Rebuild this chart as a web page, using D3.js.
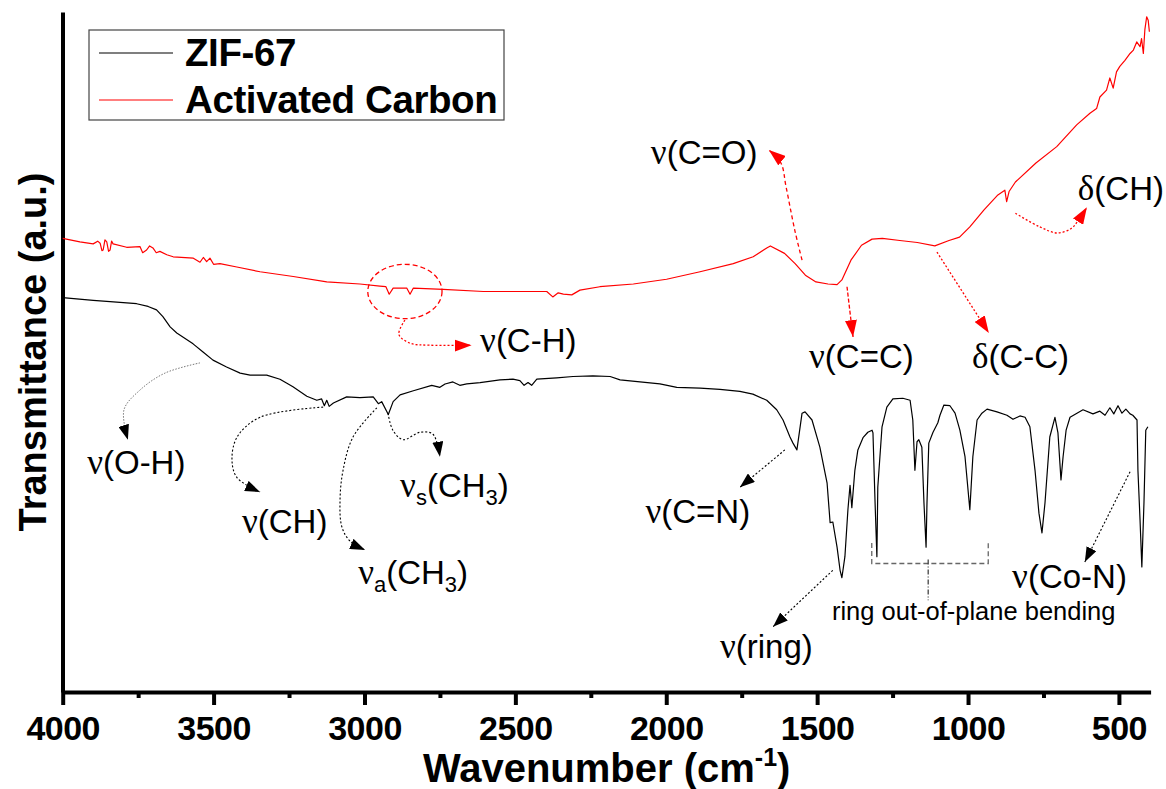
<!DOCTYPE html>
<html><head><meta charset="utf-8">
<script src="https://cdn.jsdelivr.net/npm/d3@7"></script>
<style>body{margin:0;background:#fff}svg{display:block}</style>
</head><body>
<svg id="chart" width="1166" height="789"></svg>
<script>
// FTIR spectra: wavenumber (cm-1) and transmittance (a.u.)
const zifWavenumber = [4000,3899,3843,3755,3717,3689,3668,3644,3622,3568,3535,3502,3457,3412,3379,3324,3280,3237,3191,3158,3142,3133,3125,3117,3103,3059,3015,2971,2954,2943,2921,2905,2882,2838,2777,2750,2733,2707,2684,2661,2617,2551,2508,2485,2471,2458,2446,2429,2363,2309,2243,2186,2153,2087,2021,1965,1888,1822,1756,1713,1667,1634,1613,1590,1580,1567,1550,1540,1517,1491,1467,1457,1448,1434,1424,1418,1408,1398,1391,1385,1375,1365,1348,1332,1318,1315,1308,1302,1299,1285,1269,1249,1216,1192,1183,1176,1169,1163,1153,1146,1139,1136,1130,1116,1100,1093,1080,1060,1043,1027,1010,994,984,970,954,937,904,871,851,828,811,795,778,765,755,745,729,712,702,692,685,675,662,639,619,586,563,546,530,517,503,490,477,463,454,440,437,430,424,417,411,404];
const zifTransmittance = [58.0,57.6,57.4,57.1,56.7,56.2,55.2,53.7,52.8,51.2,50.0,48.8,47.8,46.9,46.6,46.6,46.0,44.9,43.5,42.9,43.1,42.1,42.9,42.0,42.5,43.4,43.3,43.4,42.4,42.7,40.8,42.7,43.7,44.3,45.1,44.8,45.3,45.6,45.1,45.3,45.5,45.9,46.0,45.8,45.1,45.5,45.1,46.0,46.2,46.4,46.5,46.4,45.9,45.6,45.3,44.8,44.7,44.5,44.2,43.8,42.9,41.5,40.0,37.5,36.6,35.6,41.0,41.2,40.0,36.0,30.7,24.9,25.0,21.3,17.9,16.8,19.9,26.8,30.4,27.1,32.6,35.6,37.4,38.2,38.5,38.1,27.8,19.9,30.1,39.0,41.9,43.1,43.2,42.9,40.0,32.6,36.8,37.1,36.0,27.8,21.3,27.8,36.6,38.2,39.6,40.7,42.2,42.1,41.0,38.5,34.6,26.8,34.6,40.0,41.0,41.6,41.2,40.7,40.1,40.6,40.4,39.0,32.6,26.3,23.4,27.8,37.5,40.4,38.1,31.2,34.6,38.5,40.4,41.0,41.5,40.9,41.3,40.7,41.8,40.9,42.1,41.0,41.6,40.9,40.7,40.0,32.6,25.3,18.4,27.8,38.5,39.0];

const carbonWavenumber = [4000,3943,3899,3884,3876,3870,3866,3860,3854,3848,3843,3838,3833,3788,3744,3735,3722,3712,3701,3690,3678,3655,3634,3567,3545,3534,3523,3512,3500,3479,3423,3346,3236,3125,3015,2949,2929,2918,2905,2860,2849,2838,2739,2606,2396,2376,2358,2341,2313,2286,2220,2109,1999,1888,1778,1712,1667,1655,1608,1573,1539,1504,1464,1434,1418,1388,1353,1318,1284,1226,1168,1110,1063,1028,994,947,901,878,872,864,843,775,706,640,596,574,563,541,530,519,508,497,480,463,452,441,430,425,419,414,408,403,399];
const carbonTransmittance = [66.7,66.2,65.9,66.3,66.0,64.9,65.0,66.5,66.2,64.8,65.0,66.3,65.9,65.4,65.5,64.6,65.0,65.6,65.3,64.6,64.8,64.3,64.0,63.8,63.2,63.9,63.3,63.8,62.9,63.0,62.5,61.8,61.1,60.3,60.0,59.7,59.6,58.5,59.4,59.4,58.5,59.4,59.2,58.9,58.9,58.1,58.7,58.5,58.4,59.1,59.6,60.0,60.7,61.8,63.0,64.0,65.3,65.6,64.5,63.0,61.3,60.3,60.0,59.9,60.6,63.5,65.7,66.6,66.7,66.4,66.1,65.6,66.4,66.9,68.4,70.9,73.1,73.8,72.1,73.6,75.0,77.8,80.2,83.4,85.1,85.8,87.5,88.5,90.3,88.8,91.2,92.0,92.9,93.9,94.4,95.6,94.9,96.1,93.9,97.4,99.3,98.8,97.1];

const seriesNames = ["ZIF-67", "Activated Carbon"];
const seriesColors = ["#000000", "#ff0000"];
const majorTicks = [4000, 3500, 3000, 2500, 2000, 1500, 1000, 500];
const minorTicks = [3750, 3250, 2750, 2250, 1750, 1250, 750];

const svg = d3.select("#chart");
const x = d3.scaleLinear().domain([4000, 395]).range([62.7, 1150.6]);
const y = d3.scaleLinear().domain([0, 100]).range([692, 12]);
const P = (w, v) => [x(w), y(v)];
const SANS = "Liberation Sans, Arial, sans-serif";

// arrowheads
const defs = svg.append("defs");
function marker(id, color, len, half) {
  defs.append("marker").attr("id", id)
    .attr("viewBox", `0 ${-half} ${len} ${half * 2}`)
    .attr("refX", len).attr("refY", 0)
    .attr("markerWidth", len).attr("markerHeight", half * 2)
    .attr("markerUnits", "userSpaceOnUse").attr("orient", "auto")
    .append("path").attr("d", `M0,${-half}L${len},0L0,${half}Z`).attr("fill", color);
}
marker("headBlack", "#000", 15, 5.5);
marker("headRed", "#ff0000", 17, 6);

// axes
const xAxis = svg.append("g").attr("transform", `translate(0,${y(0)})`)
  .call(d3.axisBottom(x).tickValues(majorTicks).tickSize(13).tickSizeOuter(0).tickFormat(d3.format("d")));
xAxis.select(".domain").attr("stroke-width", 4);
xAxis.selectAll(".tick line").attr("stroke-width", 4);
xAxis.selectAll(".tick text").attr("dy", null).attr("y", 48)
  .attr("font-family", SANS).attr("font-weight", "bold")
  .attr("font-size", 34).attr("letter-spacing", "-0.5px").attr("fill", "#000");

const xMinor = svg.append("g").attr("transform", `translate(0,${y(0)})`)
  .call(d3.axisBottom(x).tickValues(minorTicks).tickSize(6).tickSizeOuter(0).tickFormat(""));
xMinor.select(".domain").remove();
xMinor.selectAll(".tick line").attr("stroke-width", 4);

const yAxis = svg.append("g").attr("transform", `translate(62.5,0)`)
  .call(d3.axisLeft(y).tickValues([]).tickSizeOuter(0));
yAxis.select(".domain").attr("stroke-width", 4);

// axis titles
const xt = svg.append("text").attr("x", (x.range()[0] + x.range()[1]) / 2).attr("y", 782)
  .attr("text-anchor", "middle").attr("font-family", SANS)
  .attr("font-weight", "bold").attr("font-size", 40);
xt.append("tspan").text("Wavenumber (cm");
xt.append("tspan").attr("font-size", 25).attr("dy", -16).text("-1");
xt.append("tspan").attr("dy", 16).text(")");

svg.append("text").attr("transform", `translate(46,${(y.range()[0] + y.range()[1]) / 2}) rotate(-90)`)
  .attr("text-anchor", "middle").attr("font-family", SANS)
  .attr("font-weight", "bold").attr("font-size", 38)
  .text("Transmittance (a.u.)");

// spectra
const line = d3.line().x(d => x(d[0])).y(d => y(d[1]));
const series = [
  d3.zip(zifWavenumber, zifTransmittance),
  d3.zip(carbonWavenumber, carbonTransmittance)
];
series.forEach((s, i) => {
  svg.append("path").datum(s).attr("d", line).attr("fill", "none")
    .attr("stroke", seriesColors[i]).attr("stroke-width", 1.2).attr("stroke-linejoin", "round");
});

// legend
const lg = svg.append("g");
lg.append("rect").attr("x", 89).attr("y", 30).attr("width", 415).attr("height", 90)
  .attr("fill", "#fff").attr("stroke", "#444").attr("stroke-width", 1.2);
seriesNames.forEach((n, i) => {
  const yy = 53 + i * 47;
  lg.append("line").attr("x1", 99).attr("x2", 173).attr("y1", yy).attr("y2", yy)
    .attr("stroke", seriesColors[i]).attr("stroke-width", 1.2);
  lg.append("text").attr("x", 185).attr("y", yy + 13)
    .attr("font-family", SANS).attr("font-weight", "bold")
    .attr("font-size", 38.5).attr("letter-spacing", "-0.4px").text(n);
});

// band assignment arrows
const smooth = d3.line().curve(d3.curveCatmullRom.alpha(0.5));
const arrows = [
  { pts: [[3545,48.4],[3661,46.9],[3744,44.4],[3797,41.5],[3784,37.1]], color: "#777", dash: "1.5,1.5", head: "headBlack", w: 1 },
  { pts: [[3137,41.9],[3346,40.4],[3422,37.5],[3439,34.1],[3422,31.5],[3346,29.4]], color: "#000", dash: "2,2", head: "headBlack", w: 1.1 },
  { pts: [[2959,41.8],[3038,37.5],[3071,32.6],[3081,28.2],[3075,24.3],[3048,22.2],[2998,20.9]], color: "#000", dash: "2,2", head: "headBlack", w: 1.1 },
  { pts: [[2922,41.0],[2906,38.5],[2872,37.1],[2816,38.2],[2773,37.9],[2750,34.6]], color: "#000", dash: "2,2", head: "headBlack", w: 1.1 },
  { pts: [[1607,35.6],[1756,30.1]], color: "#000", dash: "2,2", head: "headBlack", w: 1.1 },
  { pts: [[1448,17.9],[1646,9.6]], color: "#000", dash: "2,2", head: "headBlack", w: 1.1 },
  { pts: [[463,32.4],[613,19.1]], color: "#000", dash: "2,2", head: "headBlack", w: 1.1 },
  { pts: [[2866,54.7],[2886,52.6],[2849,51.3],[2783,51.0],[2645,51.0]], color: "#ff0000", dash: "2,2", head: "headRed", w: 1.3 },
  { pts: [[1550,63.5],[1574,67.9],[1603,74.3],[1620,77.8],[1660,79.7]], color: "#ff0000", dash: "4,3", head: "headRed", w: 1.3 },
  { pts: [[1401,59.6],[1388,54.7],[1381,52.2]], color: "#ff0000", dash: "4,2", head: "headRed", w: 1.3 },
  { pts: [[1103,64.7],[931,52.8]], color: "#ff0000", dash: "2,2", head: "headRed", w: 1.3 },
  { pts: [[843,70.4],[762,68.4],[704,67.5],[657,68.2],[634,69.4],[606,71.3]], color: "#ff0000", dash: "2,2", head: "headRed", w: 1.3 }
];
arrows.forEach(a => {
  svg.append("path").attr("d", smooth(a.pts.map(p => P(p[0], p[1]))))
    .attr("fill", "none").attr("stroke", a.color).attr("stroke-width", a.w)
    .attr("stroke-dasharray", a.dash).attr("marker-end", `url(#${a.head})`);
});

// circled C-H region on the carbon spectrum
svg.append("ellipse").attr("cx", x(2866)).attr("cy", y(58.9))
  .attr("rx", x(2866 - 123) - x(2866)).attr("ry", y(58.9 - 4) - y(58.9))
  .attr("fill", "none").attr("stroke", "#ff0000").attr("stroke-width", 1.3).attr("stroke-dasharray", "5,3");

// bracket over the ring out-of-plane bands
const bracket = [[1319,21.9],[1319,18.9],[933,18.9],[933,21.9]];
svg.append("path").attr("d", d3.line()(bracket.map(p => P(p[0], p[1]))))
  .attr("fill", "none").attr("stroke", "#666").attr("stroke-width", 1.3).attr("stroke-dasharray", "5,3");
svg.append("path").attr("d", d3.line()([P(1132, 19.5), P(1132, 13.5)]))
  .attr("fill", "none").attr("stroke", "#444").attr("stroke-width", 1.3).attr("stroke-dasharray", "5,2,1,2");

// labels
const labels = [
  { at: [3919, 32.1], parts: [["ν", "g"], ["(O-H)"]] },
  { at: [3406, 23.4], parts: [["ν", "g"], ["(CH)"]] },
  { at: [3021, 15.9], parts: [["ν", "g"], ["a", "s"], ["(CH"], ["3", "s"], [")"]] },
  { at: [2882, 28.7], parts: [["ν", "g"], ["s", "s"], ["(CH"], ["3", "s"], [")"]] },
  { at: [2617, 50.0], parts: [["ν", "g"], ["(C-H)"]] },
  { at: [2051, 77.6], parts: [["ν", "g"], ["(C=O)"]] },
  { at: [1527, 47.6], parts: [["ν", "g"], ["(C=C)"]] },
  { at: [987, 47.6], parts: [["δ", "g"], ["(C-C)"]] },
  { at: [636, 72.4], parts: [["δ", "g"], ["(CH)"]] },
  { at: [1722, 24.9], parts: [["ν", "g"], ["(C=N)"]], anchor: "end" },
  { at: [1822, 5.0], parts: [["ν", "g"], ["(ring)"]] },
  { at: [854, 15.3], parts: [["ν", "g"], ["(Co-N)"]] }
];
labels.forEach(l => {
  const t = svg.append("text").attr("x", x(l.at[0])).attr("y", y(l.at[1]))
    .attr("text-anchor", l.anchor || "start")
    .attr("font-family", SANS).attr("font-size", 33).attr("fill", "#000");
  let shifted = false;
  l.parts.forEach(p => {
    const s = t.append("tspan").text(p[0]);
    if (p[1] === "g") s.attr("font-family", "Liberation Serif, Times New Roman, serif").attr("font-size", 35);
    if (p[1] === "s") { s.attr("font-size", 22).attr("dy", 8); shifted = true; }
    else if (shifted) { s.attr("dy", -8); shifted = false; }
  });
});
svg.append("text").attr("x", x(1451)).attr("y", y(10.6))
  .attr("font-family", SANS).attr("font-size", 25.5)
  .text("ring out-of-plane bending");
</script>
</body></html>
